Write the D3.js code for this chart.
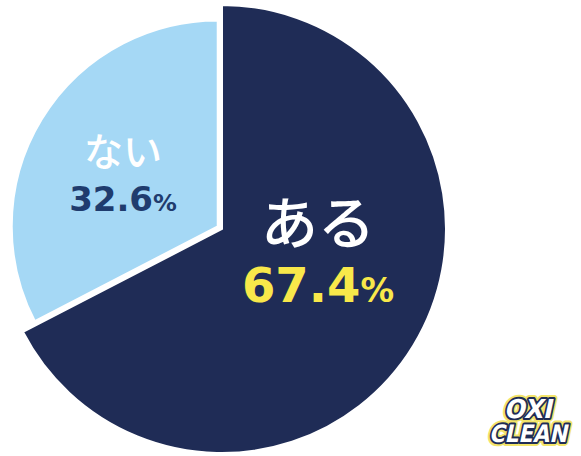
<!DOCTYPE html>
<html>
<head>
<meta charset="utf-8">
<script src="https://cdn.jsdelivr.net/npm/d3@7"></script>
<style>
  body { margin: 0; background: #fff; }
  svg { display: block; }
</style>
</head>
<body>
<div id="chart"></div>
<script>
// answers and shares (%)
var labels = ["ある", "ない"];
var values = [67.4, 32.6];
var colors = ["#1f2c56", "#a5d8f5"];
var labelColors = ["#ffffff", "#ffffff"];
var valueColors = ["#f8e84a", "#1f3c6e"];

var width = 581, height = 456;
var cx = 222, cy = 229;
var radii = [224, 206];

var svg = d3.select("#chart").append("svg")
    .attr("width", width)
    .attr("height", height);

var g = svg.append("g")
    .attr("transform", "translate(" + cx + "," + cy + ")");

var pie = d3.pie().sort(null).value(function(d) { return d; });
var arcs = pie(values);

// the small slice is pulled out a bit
g.selectAll("path")
  .data(arcs)
  .enter().append("path")
    .attr("d", function(d, i) {
      return d3.arc().innerRadius(0).outerRadius(radii[i])(d);
    })
    .attr("transform", function(d, i) {
      if (i === 0) return null;
      var mid = (d.startAngle + d.endAngle) / 2;
      var off = 5;
      return "translate(" + (Math.sin(mid) * off) + "," + (-Math.cos(mid) * off) + ")";
    })
    .attr("fill", function(d, i) { return colors[i]; })
    .attr("stroke", "#fff")
    .attr("stroke-width", 2);

// labels
var labelPos = [[96, 15], [-99, -63]];
var labelSize = [57, 39];
var valueSize = [48, 34];
var gap = [58, 45];

arcs.forEach(function(d, i) {
  var t = g.append("g")
      .attr("transform", "translate(" + labelPos[i][0] + "," + labelPos[i][1] + ")");
  t.append("text")
      .attr("text-anchor", "middle")
      .attr("y", 0)
      .attr("font-family", "'Noto Sans CJK JP', sans-serif")
      .attr("font-weight", 500)
      .attr("font-size", labelSize[i])
      .attr("fill", labelColors[i])
      .text(labels[i]);
  var v = t.append("text")
      .attr("text-anchor", "middle")
      .attr("y", gap[i])
      .attr("font-family", "'DejaVu Sans', sans-serif")
      .attr("font-weight", "bold")
      .attr("font-size", valueSize[i])
      .attr("fill", valueColors[i]);
  v.append("tspan").text(values[i].toFixed(1));
  v.append("tspan").attr("font-size", valueSize[i] * 0.7).text("%");
});

// brand mark
[["OXI", 418, 26, 48], ["CLEAN", 442, 24, 78]].forEach(function(w) {
  var line = svg.append("g")
      .attr("transform", "translate(528," + w[1] + ") skewX(-12)")
      .attr("font-family", "'DejaVu Sans', sans-serif")
      .attr("font-weight", "bold")
      .attr("text-anchor", "middle");
  [["#f3e46a", 8], ["#1f2c56", 4]].forEach(function(s) {
    line.append("text")
        .attr("x", 0).attr("y", 0)
        .attr("font-size", w[2])
        .attr("textLength", w[3])
        .attr("lengthAdjust", "spacingAndGlyphs")
        .attr("fill", "#fff")
        .attr("stroke", s[0])
        .attr("stroke-width", s[1])
        .attr("stroke-linejoin", "round")
        .attr("paint-order", "stroke")
        .text(w[0]);
  });
});
</script>
</body>
</html>
